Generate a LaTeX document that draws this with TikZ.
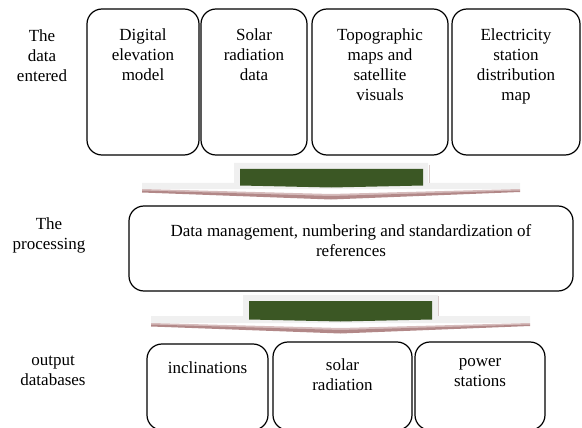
\documentclass[tikz,border=0pt]{standalone}
\usepackage{fontspec}
\setmainfont{Liberation Serif}
\definecolor{arrowgreen}{RGB}{59,87,36}
\definecolor{arrowbase}{RGB}{240,240,240}
\definecolor{arrowedge}{RGB}{216,202,202}
\definecolor{arrowtip}{RGB}{178,136,136}
\definecolor{arrowtiplight}{RGB}{214,188,188}
\begin{document}
\begin{tikzpicture}[x=1pt,y=-1pt,
  box/.style={draw=black,line width=1.2pt,rounded corners=15pt,inner sep=0pt},
  txt/.style={font=\fontsize{17}{20}\selectfont,align=center,inner sep=0pt,anchor=north,
              execute at begin node=\strut},
  flowbase/.style={fill=arrowbase},
  flowbody/.style={fill=arrowgreen},
  flowtip/.style={fill=arrowtip},
  flowtiplight/.style={fill=arrowtiplight},
  flowedge/.style={draw=arrowedge,line width=1pt}]
\useasboundingbox (0,0) rectangle (582,428);
\begin{scope}
\clip (0,0) rectangle (582,428);

% row labels (text baseline = y + 14)
\node[txt] (lblin)  at (42,30)  {The\\data\\entered};
\node[txt] (lblpro) at (49,218) {The\\processing};
\node[txt] (lblout) at (53,356) {output\\databases};

% input boxes
\node[box,minimum width=112pt,minimum height=146pt] (in1) at (143,82) {};
\node[box,minimum width=106pt,minimum height=146pt] (in2) at (254,82) {};
\node[box,minimum width=136pt,minimum height=146pt] (in3) at (380,82) {};
\node[box,minimum width=128pt,minimum height=146pt] (in4) at (516,82) {};
\node[txt] (in1t) at ([yshift=-20pt]in1.north) {Digital\\elevation\\model};
\node[txt] (in2t) at ([yshift=-20pt]in2.north) {Solar\\radiation\\data};
\node[txt] (in3t) at ([yshift=-20pt]in3.north) {Topographic\\maps and\\satellite\\visuals};
\node[txt] (in4t) at ([yshift=-20pt]in4.north) {Electricity\\station\\distribution\\map};

% first flow arrow
\fill[flowbase] (234,163) -- (428,163) -- (428,183) -- (520,183) -- (520,189)
  -- (142,189) -- (142,183) -- (234,183) -- cycle;
\draw[flowedge] (429,165) -- (429,183);
\fill[flowbody] (240,169) -- (423,169) -- (423,185.5) -- (331,187.5) -- (240,185.5) -- cycle;
\fill[flowtiplight] (142,189) -- (331,194) -- (520,189) -- (520,191) -- (331,197)
  -- (142,191) -- cycle;
\fill[flowtip] (142,190.5) -- (331,196) -- (520,190.5) -- (520,192) -- (331,199.5)
  -- (142,192.5) -- cycle;

% processing box
\node[box,minimum width=444pt,minimum height=85pt] (proc) at (351,248.5) {};
\node[txt] (proct) at ([yshift=-19pt]proc.north)
  {Data management, numbering and standardization of\\references};

% second flow arrow
\fill[flowbase] (243,295) -- (438,295) -- (438,316) -- (530,316) -- (530,323)
  -- (151,323) -- (151,316) -- (243,316) -- cycle;
\draw[flowedge] (438.5,296) -- (438.5,316);
\fill[flowbody] (249,301) -- (432,301) -- (432,319.5) -- (340.5,321.5) -- (249,319.5) -- cycle;
\fill[flowtiplight] (151,323) -- (340.5,328) -- (530,323) -- (530,325) -- (340.5,331)
  -- (151,325) -- cycle;
\fill[flowtip] (151,324.5) -- (340.5,330) -- (530,324.5) -- (530,326) -- (340.5,333.5)
  -- (151,326.5) -- cycle;

% output boxes
\node[box,minimum width=121pt,minimum height=86pt] (out1) at (207.5,387) {};
\node[box,minimum width=139pt,minimum height=88pt] (out2) at (342.5,386) {};
\node[box,minimum width=130pt,minimum height=88pt] (out3) at (480,386) {};
\node[txt] (out1t) at ([yshift=-16pt]out1.north) {inclinations};
\node[txt] (out2t) at ([yshift=-17pt]out2.north) {solar\\radiation};
\node[txt] (out3t) at ([yshift=-17pt]out3.north) {power\\stations};
\end{scope}
\end{tikzpicture}
\end{document}
